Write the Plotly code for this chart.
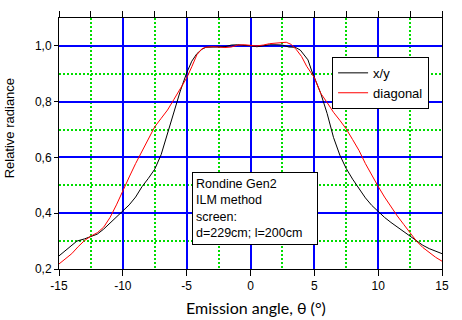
import plotly.graph_objects as go

# ---- data ----
xy_angle = [-15, -14.5, -14, -13.6, -13, -12.5, -12, -11.5, -11, -10.5, -10, -9.5, -9, -8.5, -8,
            -7.5, -7, -6.5, -6, -5.5, -5, -4.6, -4.2, -3.8, -3.5, -3, -2.5, -2, -1.5, -1, -0.5,
            0, 0.5, 1, 1.5, 2, 2.5, 3, 3.5, 3.9, 4.2, 4.5, 4.8, 5, 5.5, 6, 6.5, 7, 7.5, 8, 8.5,
            9, 9.5, 10, 10.5, 11, 11.5, 12, 12.5, 13, 13.5, 14, 14.5, 15]
xy_radiance = [0.247, 0.265, 0.285, 0.300, 0.308, 0.316, 0.325, 0.343, 0.365, 0.388, 0.410, 0.430,
               0.458, 0.495, 0.525, 0.558, 0.610, 0.685, 0.765, 0.838, 0.903, 0.945, 0.972, 0.988,
               0.995, 0.996, 0.996, 0.997, 1.003, 1.004, 1.002, 1.001, 0.997, 1.000, 1.004, 1.004,
               1.003, 0.996, 0.995, 0.985, 0.968, 0.950, 0.910, 0.885, 0.830, 0.758, 0.672, 0.608,
               0.560, 0.522, 0.488, 0.455, 0.428, 0.405, 0.385, 0.367, 0.350, 0.333, 0.318, 0.302,
               0.285, 0.273, 0.263, 0.255]

diag_angle = [-15, -14.5, -14, -13.5, -13, -12.5, -12, -11.5, -11, -10.5, -10, -9.5, -9, -8.5, -8,
              -7.5, -7, -6.5, -6, -5.5, -5, -4.6, -4.2, -3.8, -3.5, -3, -2.5, -2, -1.5, -1, -0.5,
              0, 0.5, 1, 1.5, 2, 2.5, 2.8, 3.2, 3.6, 4, 4.4, 5, 5.5, 6, 6.5, 7, 7.5, 8, 8.5, 9,
              9.5, 10, 10.5, 11, 11.5, 12, 12.5, 13, 13.5, 14, 14.5, 15]
diag_radiance = [0.218, 0.235, 0.255, 0.280, 0.302, 0.318, 0.330, 0.350, 0.385, 0.430, 0.477, 0.530,
                 0.578, 0.622, 0.665, 0.710, 0.740, 0.770, 0.808, 0.848, 0.885, 0.925, 0.968, 0.990,
                 0.995, 0.997, 0.995, 0.994, 0.996, 1.003, 1.004, 1.003, 1.000, 1.003, 1.008, 1.010,
                 1.011, 1.013, 1.005, 0.986, 0.962, 0.927, 0.886, 0.830, 0.797, 0.762, 0.733, 0.702,
                 0.664, 0.625, 0.578, 0.536, 0.496, 0.458, 0.422, 0.390, 0.360, 0.330, 0.300, 0.277,
                 0.258, 0.242, 0.228]

series_names = ["x/y", "diagonal"]
x_tick_vals = [-15, -10, -5, 0, 5, 10, 15]
x_tick_text = ["-15", "-10", "-5", "0", "5", "10", "15"]
y_tick_vals = [0.2, 0.4, 0.6, 0.8, 1.0]
y_tick_text = ["0,2", "0,4", "0,6", "0,8", "1,0"]
x_title = "Emission angle, θ (°)"
y_title = "Relative radiance"
note_text = "Rondine Gen2<br>ILM method<br>screen:<br>d=229cm; l=200cm"

FONT = "Liberation Sans, Arial, sans-serif"
MAJOR = "#0000ff"
MINOR = "#00dd00"

fig = go.Figure()
fig.add_trace(go.Scatter(x=xy_angle, y=xy_radiance, mode="lines", name=series_names[0],
                         line=dict(color="black", width=1)))
fig.add_trace(go.Scatter(x=diag_angle, y=diag_radiance, mode="lines", name=series_names[1],
                         line=dict(color="red", width=1)))
# helper trace so the top axis (with minor ticks) is drawn
fig.add_trace(go.Scatter(x=[], y=[], xaxis="x2", yaxis="y", showlegend=False, hoverinfo="skip"))

fig.update_layout(
    width=462, height=320,
    margin=dict(l=59, r=20, t=12, b=51),
    paper_bgcolor="white", plot_bgcolor="white",
    font=dict(family=FONT, size=12, color="black"),
    showlegend=True,
    legend=dict(x=0.713, y=0.845, xanchor="left", yanchor="top",
                bgcolor="white", bordercolor="black", borderwidth=1,
                font=dict(family=FONT, size=13, color="black"),
                tracegroupgap=0, itemwidth=30),
    xaxis=dict(range=[-15, 15], tickvals=x_tick_vals, ticktext=x_tick_text,
               showline=True, linecolor="black", linewidth=1, mirror=False,
               ticks="outside", ticklen=6, tickcolor="black",
               showgrid=True, gridcolor=MAJOR, gridwidth=1.6,
               zeroline=False,
               minor=dict(dtick=2.5, tick0=0, showgrid=True, gridcolor=MINOR,
                          griddash="2px,2px", gridwidth=1.5, ticks=""),
               tickfont=dict(family=FONT, size=12)),
    xaxis2=dict(range=[-15, 15], overlaying="x", side="top", dtick=2.5, tick0=0,
                showline=True, linecolor="black", linewidth=1,
                ticks="outside", ticklen=6, tickcolor="black",
                showticklabels=False, showgrid=False, zeroline=False),
    yaxis=dict(range=[0.2, 1.1], tickvals=y_tick_vals, ticktext=y_tick_text,
               showline=True, linecolor="black", linewidth=1, mirror=True,
               ticks="outside", ticklen=4, tickcolor="black",
               showgrid=True, gridcolor=MAJOR, gridwidth=1.6,
               zeroline=False,
               minor=dict(dtick=0.1, tick0=0, showgrid=True, gridcolor=MINOR,
                          griddash="2px,2px", gridwidth=1.5, ticks=""),
               tickfont=dict(family=FONT, size=12)),
)

fig.add_annotation(text=y_title, xref="paper", yref="paper",
                   x=(9 - 59) / 383, y=(269 - 125) / 257,
                   xanchor="center", yanchor="middle", textangle=-90, showarrow=False,
                   font=dict(family=FONT, size=13, color="black"))
fig.add_annotation(text=x_title, xref="paper", yref="paper",
                   x=(256 - 59) / 383, y=(269 - 308) / 257,
                   xanchor="center", yanchor="middle", showarrow=False,
                   font=dict(family="Lato, sans-serif", size=16, color="black"))
fig.add_annotation(text=note_text, xref="x", yref="y", x=0.33, y=0.416,
                   xanchor="center", yanchor="middle", showarrow=False, align="left",
                   width=118, height=65, borderpad=3,
                   bordercolor="black", borderwidth=1, bgcolor="white",
                   font=dict(family=FONT, size=12.5, color="black"))

fig.write_html("out.html", config={"displayModeBar": False},
               post_script="document.body.style.margin='0';")
